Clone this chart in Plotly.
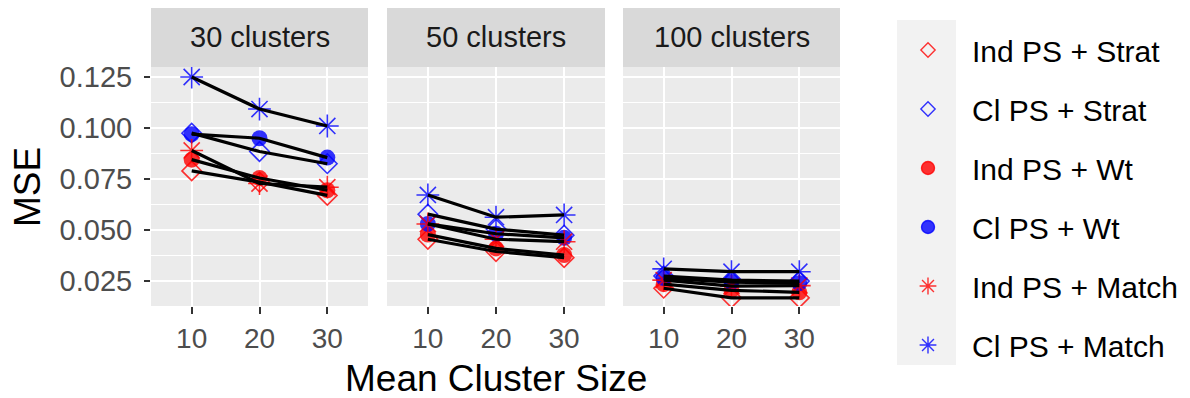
import plotly.graph_objects as go

# Facets, x categories and methods
panels = ["30 clusters", "50 clusters", "100 clusters"]
cluster_sizes = ["10", "20", "30"]
methods = ["Ind PS + Strat", "Cl PS + Strat", "Ind PS + Wt",
           "Cl PS + Wt", "Ind PS + Match", "Cl PS + Match"]

# MSE per method: 30 clusters (10,20,30), 50 clusters (10,20,30), 100 clusters (10,20,30)
ind_strat = [0.0790, 0.0735, 0.0670, 0.0455, 0.0395, 0.0365, 0.0215, 0.0168, 0.0168]
cl_strat  = [0.0975, 0.0885, 0.0825, 0.0578, 0.0505, 0.0475, 0.0275, 0.0255, 0.0250]
ind_wt    = [0.0845, 0.0755, 0.0695, 0.0478, 0.0410, 0.0378, 0.0235, 0.0205, 0.0195]
cl_wt     = [0.0970, 0.0950, 0.0855, 0.0530, 0.0482, 0.0462, 0.0265, 0.0245, 0.0240]
ind_match = [0.0890, 0.0728, 0.0710, 0.0530, 0.0455, 0.0443, 0.0255, 0.0225, 0.0228]
cl_match  = [0.1250, 0.1093, 0.1010, 0.0672, 0.0563, 0.0574, 0.0310, 0.0296, 0.0296]

y_ticks = [0.025, 0.050, 0.075, 0.100, 0.125]

series = [ind_strat, cl_strat, ind_wt, cl_wt, ind_match, cl_match]

RED = "rgba(255,0,0,0.8)"
BLUE = "rgba(0,0,255,0.8)"
styles = [
    dict(symbol="diamond-open", color=RED, size=15, lw=1.6, leg=11),
    dict(symbol="diamond-open", color=BLUE, size=15, lw=1.6, leg=11),
    dict(symbol="circle", color=RED, size=16, lw=0, leg=13),
    dict(symbol="circle", color=BLUE, size=16, lw=0, leg=13),
    dict(symbol="asterisk-open", color=RED, size=19, lw=1.6, leg=14),
    dict(symbol="asterisk-open", color=BLUE, size=19, lw=1.6, leg=14),
]

FONT = "Liberation Sans, Arial, sans-serif"
W, H = 1190, 398
ML, MR, MT, MB = 151, 350, 8, 92
PW, PH = W - ML - MR, H - MT - MB


def px(x):
    return (x - ML) / PW


def py(y):
    return (H - MB - y) / PH


strip_bottom = py(67)
domains = [[px(151), px(368)], [px(387), px(605)], [px(623), px(840)]]

fig = go.Figure()

# points
for p in range(3):
    xa = "x" if p == 0 else f"x{p + 1}"
    for vals, st in zip(series, styles):
        fig.add_trace(go.Scatter(
            x=cluster_sizes, y=vals[3 * p:3 * p + 3], xaxis=xa, yaxis="y",
            mode="markers", showlegend=False, hoverinfo="skip",
            marker=dict(symbol=st["symbol"], color=st["color"], size=st["size"],
                        line=dict(color=st["color"], width=st["lw"]))))

# connecting lines drawn over the points
for p in range(3):
    xa = "x" if p == 0 else f"x{p + 1}"
    for vals in series:
        fig.add_trace(go.Scatter(
            x=cluster_sizes, y=vals[3 * p:3 * p + 3], xaxis=xa, yaxis="y",
            mode="lines", line=dict(color="black", width=3.2),
            showlegend=False, hoverinfo="skip"))

# legend keys
for name, st in zip(methods, styles):
    fig.add_trace(go.Scatter(
        x=[None], y=[None], mode="markers", name=name, legendgroup=name,
        marker=dict(symbol=st["symbol"], color=st["color"], size=st["leg"],
                    line=dict(color=st["color"], width=1.4))))

y_range = [0.0128, 0.1299]
grid = dict(showgrid=True, gridcolor="white", gridwidth=2.2, zeroline=False,
            showline=False)

layout = dict(
    width=W, height=H,
    margin=dict(l=ML, r=MR, t=MT, b=MB, autoexpand=False),
    paper_bgcolor="white", plot_bgcolor="#EBEBEB",
    font=dict(family=FONT, size=28, color="#4D4D4D"),
    showlegend=True,
    legend=dict(x=px(884), y=py(24), xanchor="left", yanchor="top",
                bgcolor="rgba(0,0,0,0)", font=dict(size=30, color="black"),
                itemwidth=78, tracegroupgap=17, traceorder="grouped",
                maxheight=420),
)

for p in range(3):
    key = "xaxis" if p == 0 else f"xaxis{p + 1}"
    layout[key] = dict(
        type="category", domain=domains[p], range=[-0.6, 2.6], anchor="y",
        ticks="outside", ticklen=7, tickwidth=2, tickcolor="#333333",
        tickfont=dict(size=28, color="#4D4D4D"), **grid)

layout["yaxis"] = dict(
    domain=[0, strip_bottom], range=y_range, tickvals=y_ticks,
    ticktext=[f"{v:.3f}" for v in y_ticks],
    ticks="outside", ticklen=6, tickwidth=2, tickcolor="#333333",
    tickfont=dict(size=29, color="#4D4D4D"), ticklabelstandoff=6,
    minor=dict(tick0=0.0125, dtick=0.025, showgrid=True, gridcolor="white",
               gridwidth=1.1, ticks=""),
    **grid)

fig.update_layout(**layout)

shapes = []
annotations = []
for p in range(3):
    shapes.append(dict(type="rect", xref="paper", yref="paper",
                       x0=domains[p][0], x1=domains[p][1], y0=strip_bottom, y1=1,
                       fillcolor="#D9D9D9", line=dict(width=0), layer="below"))
    annotations.append(dict(xref="paper", yref="paper",
                            x=(domains[p][0] + domains[p][1]) / 2,
                            y=(strip_bottom + 1) / 2, text=panels[p],
                            xanchor="center", yanchor="middle",
                            showarrow=False, font=dict(size=29, color="#1A1A1A")))

# legend key column
shapes.append(dict(type="rect", xref="paper", yref="paper",
                   x0=px(897), x1=px(956), y0=py(365), y1=py(20),
                   fillcolor="#F2F2F2", line=dict(width=0), layer="below"))

annotations.append(dict(xref="paper", yref="paper", x=px(495.5), y=py(378),
                        xanchor="center", yanchor="middle",
                        text="Mean Cluster Size", showarrow=False,
                        font=dict(size=37, color="black")))
annotations.append(dict(xref="paper", yref="paper", x=px(27), y=py(187),
                        xanchor="center", yanchor="middle",
                        text="MSE", textangle=-90, showarrow=False,
                        font=dict(size=37, color="black")))

fig.update_layout(shapes=shapes, annotations=annotations)
fig.write_html("out.html")
